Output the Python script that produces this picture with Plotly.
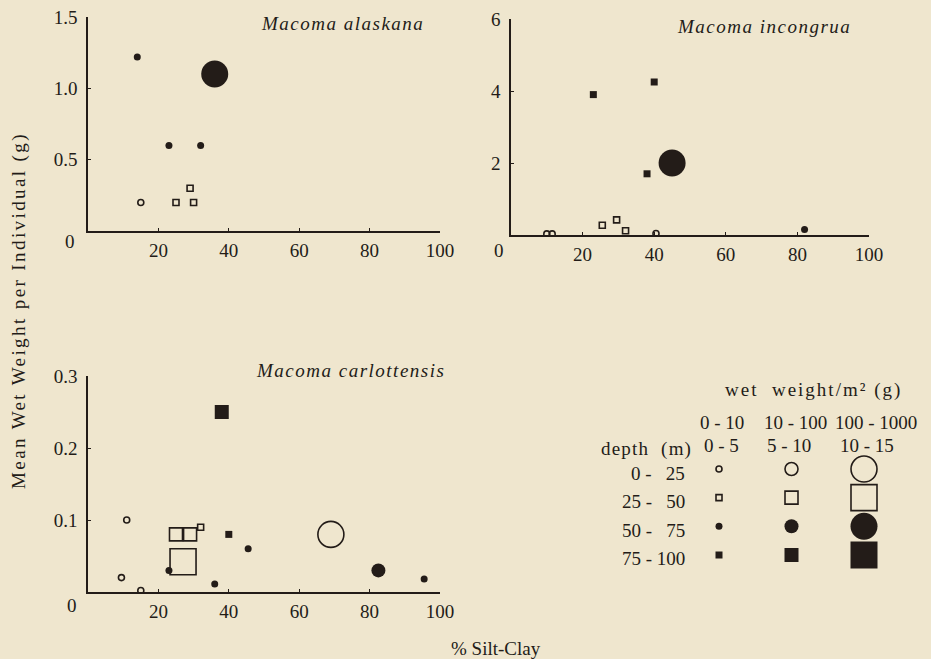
import plotly.graph_objects as go

# ---------------- data ----------------
depth_classes = ["0 - 25", "25 - 50", "50 - 75", "75 - 100"]
biomass_classes = ["0 - 10", "10 - 100", "100 - 1000"]
size_classes = ["0 - 5", "5 - 10", "10 - 15"]

alaskana_silt = [14, 36, 23, 32, 15, 25, 29, 30]
alaskana_wt = [1.22, 1.10, 0.60, 0.60, 0.20, 0.20, 0.30, 0.20]
alaskana_depth = ["50 - 75", "50 - 75", "50 - 75", "50 - 75", "0 - 25", "25 - 50", "25 - 50", "25 - 50"]
alaskana_biomass = ["0 - 10", "100 - 1000", "0 - 10", "0 - 10", "0 - 10", "0 - 10", "0 - 10", "0 - 10"]

incongrua_silt = [23, 40, 38, 45, 82, 10, 11.5, 25.5, 29.5, 32, 40.5]
incongrua_wt = [3.9, 4.25, 1.7, 2.0, 0.15, 0.03, 0.03, 0.27, 0.42, 0.12, 0.04]
incongrua_depth = ["75 - 100", "75 - 100", "75 - 100", "50 - 75", "50 - 75", "0 - 25", "0 - 25",
                   "25 - 50", "25 - 50", "25 - 50", "0 - 25"]
incongrua_biomass = ["0 - 10", "0 - 10", "0 - 10", "100 - 1000", "0 - 10", "0 - 10", "0 - 10",
                     "0 - 10", "0 - 10", "0 - 10", "0 - 10"]

carlottensis_silt = [38, 11, 9.5, 15, 25, 29, 27, 32, 40, 45.5, 23, 36, 69, 82.5, 95.5]
carlottensis_wt = [0.25, 0.10, 0.02, 0.002, 0.08, 0.08, 0.042, 0.09, 0.08, 0.06, 0.03, 0.011, 0.08, 0.03, 0.018]
carlottensis_depth = ["75 - 100", "0 - 25", "0 - 25", "0 - 25", "25 - 50", "25 - 50", "25 - 50", "25 - 50",
                      "75 - 100", "50 - 75", "50 - 75", "50 - 75", "0 - 25", "50 - 75", "50 - 75"]
carlottensis_biomass = ["10 - 100", "0 - 10", "0 - 10", "0 - 10", "10 - 100", "10 - 100", "100 - 1000", "0 - 10",
                        "0 - 10", "0 - 10", "0 - 10", "0 - 10", "100 - 1000", "10 - 100", "0 - 10"]

species = ["Macoma alaskana", "Macoma incongrua", "Macoma carlottensis"]
x_ticks = [20, 40, 60, 80, 100]
y_ticks = [[0.5, 1.0, 1.5], [2, 4, 6], [0.1, 0.2, 0.3]]
y_max = [1.5, 6, 0.3]

# ---------------- style ----------------
BG = "#EFE6CE"
INK = "#231c18"
FONT = "Liberation Serif"
SYMBOL = {"0 - 25": "circle-open", "25 - 50": "square-open", "50 - 75": "circle", "75 - 100": "square"}
SIZE = {"0 - 10": 7, "10 - 100": 14, "100 - 1000": 27}
HEAD1_SHIFT = [3, 4, 12]
HEAD2_SHIFT = [2, -3, 3]


def spaced(t, px=1.5):
    return '<span style="letter-spacing:%spx">%s</span>' % (px, t)


def add_points(fig, silt, wt, depth, biomass, xa, ya):
    for d in depth_classes:
        idx = [i for i, v in enumerate(depth) if v == d]
        if not idx:
            continue
        is_open = SYMBOL[d].endswith("open")
        fig.add_trace(go.Scatter(
            x=[silt[i] for i in idx], y=[wt[i] for i in idx],
            xaxis=xa, yaxis=ya, mode="markers", showlegend=False, hoverinfo="skip",
            marker=dict(symbol=SYMBOL[d], opacity=1,
                        size=[SIZE[biomass[i]] - (1 if is_open else 0) for i in idx],
                        color=INK, line=dict(color=INK, width=1.6 if is_open else 0)),
        ))


fig = go.Figure()
add_points(fig, alaskana_silt, alaskana_wt, alaskana_depth, alaskana_biomass, "x", "y")
add_points(fig, incongrua_silt, incongrua_wt, incongrua_depth, incongrua_biomass, "x2", "y2")
add_points(fig, carlottensis_silt, carlottensis_wt, carlottensis_depth, carlottensis_biomass, "x3", "y3")

# legend key drawn on a categorical axis pair
for d in depth_classes:
    for b in biomass_classes:
        is_open = SYMBOL[d].endswith("open")
        fig.add_trace(go.Scatter(
            x=[b], y=[d], xaxis="x4", yaxis="y4", mode="markers", showlegend=False, hoverinfo="skip",
            marker=dict(symbol=SYMBOL[d], opacity=1, size=SIZE[b] - (1 if is_open else 0), color=INK,
                        line=dict(color=INK, width=1.6 if is_open else 0)),
        ))

W, H = 931, 659


def px_x(a, b):
    return [a / W, b / W]


def px_y(top, bottom):
    return [1 - bottom / H, 1 - top / H]


tickfont = dict(family=FONT, size=19, color=INK)
common_x = dict(range=[0, 100], tickvals=x_ticks, showgrid=False, zeroline=False, showline=True,
                linecolor=INK, linewidth=1.6, ticks="inside", ticklen=3, tickcolor=INK,
                tickfont=tickfont, ticklabelstandoff=1, fixedrange=True, automargin=False)
common_y = dict(showgrid=False, zeroline=False, showline=True, linecolor=INK, linewidth=1.6,
                ticks="inside", ticklen=3, tickcolor=INK, tickfont=tickfont, ticklabelstandoff=5,
                fixedrange=True, automargin=False)

panels = [
    (px_x(88, 440), px_y(17, 231)),
    (px_x(511, 869), px_y(19, 235)),
    (px_x(88, 440), px_y(376, 592)),
]
for k, (dx, dy) in enumerate(panels):
    sfx = "" if k == 0 else str(k + 1)
    fig.layout["xaxis" + sfx] = dict(common_x, domain=dx, anchor="y" + sfx)
    fmt = ".1f" if k != 1 else "d"
    fig.layout["yaxis" + sfx] = dict(common_y, domain=dy, anchor="x" + sfx, range=[0, y_max[k]],
                                     tickvals=y_ticks[k], tickformat=fmt)

nb = "\u00a0"
row_labels = []
for d in depth_classes:
    a, b = d.split(" - ")
    row_labels.append(a + " -" + nb * (3 if len(b) < 3 else 1) + b)

fig.layout["xaxis4"] = dict(domain=px_x(682.75, 900.25), anchor="y4", type="category",
                            categoryarray=biomass_classes, categoryorder="array", range=[-0.5, 2.5],
                            showline=False, showgrid=False, zeroline=False, ticks="",
                            showticklabels=False, fixedrange=True, automargin=False)
fig.layout["yaxis4"] = dict(domain=px_y(454.7, 569.3), anchor="x4", type="category",
                            categoryarray=depth_classes, categoryorder="array", range=[3.5, -0.5],
                            showline=False, showgrid=False, zeroline=False, ticks="",
                            showticklabels=False, fixedrange=True, automargin=False)

ann = []
title_x = [72.2, 70.7, 74.7]
origin_shift = [(-18, -11), (-12, -16), (-16, -13)]
for k, name in enumerate(species):
    sfx = "" if k == 0 else str(k + 1)
    ann.append(dict(text=spaced(name, 1.5), xref="x" + sfx, yref="y" + sfx + " domain", x=title_x[k],
                    y=[0.97, 0.965, 1.025][k], showarrow=False, xanchor="center", yanchor="middle",
                    font=dict(family=FONT, size=19, color=INK, style="italic")))
    ann.append(dict(text="0", xref="x" + sfx, yref="y" + sfx, x=0, y=0, showarrow=False,
                    xanchor="center", yanchor="middle", xshift=origin_shift[k][0],
                    yshift=origin_shift[k][1], font=tickfont))

# legend column headers and row labels
for j, (b, s) in enumerate(zip(biomass_classes, size_classes)):
    ann.append(dict(text=b, xref="x4", yref="paper", x=b, y=1 - 423 / H, showarrow=False,
                    xanchor="center", yanchor="middle", xshift=HEAD1_SHIFT[j], font=tickfont))
    ann.append(dict(text=s, xref="x4", yref="paper", x=b, y=1 - 445 / H, showarrow=False,
                    xanchor="center", yanchor="middle", xshift=HEAD2_SHIFT[j], font=tickfont))
for d, lab in zip(depth_classes, row_labels):
    ann.append(dict(text=lab, xref="paper", yref="y4", x=687 / W, y=d, showarrow=False,
                    xanchor="right", yanchor="middle", yshift=-4, font=tickfont))

ann.append(dict(text=spaced("Mean Wet Weight per Individual (g)", 2.4), xref="paper", yref="paper",
                x=19 / W, y=1 - 311 / H, textangle=-90, showarrow=False, xanchor="center",
                yanchor="middle", font=dict(family=FONT, size=19, color=INK)))
ann.append(dict(text="% Silt-Clay", xref="paper", yref="paper", x=496 / W, y=1 - 648 / H,
                showarrow=False, xanchor="center", yanchor="middle",
                font=dict(family=FONT, size=19, color=INK)))
ann.append(dict(text=spaced("wet  weight/m² (g)", 2), xref="paper", yref="paper", x=813 / W, y=1 - 390 / H,
                showarrow=False, xanchor="center", yanchor="middle",
                font=dict(family=FONT, size=19, color=INK)))
ann.append(dict(text=spaced("depth  (m)", 1.2), xref="paper", yref="paper", x=646 / W, y=1 - 449 / H,
                showarrow=False, xanchor="center", yanchor="middle",
                font=dict(family=FONT, size=19, color=INK)))

fig.update_layout(width=W, height=H, margin=dict(l=0, r=0, t=0, b=0, autoexpand=False),
                  paper_bgcolor=BG, plot_bgcolor=BG, showlegend=False, annotations=ann,
                  font=dict(family=FONT, color=INK))

fig.write_html("out.html", config={"displayModeBar": False})
